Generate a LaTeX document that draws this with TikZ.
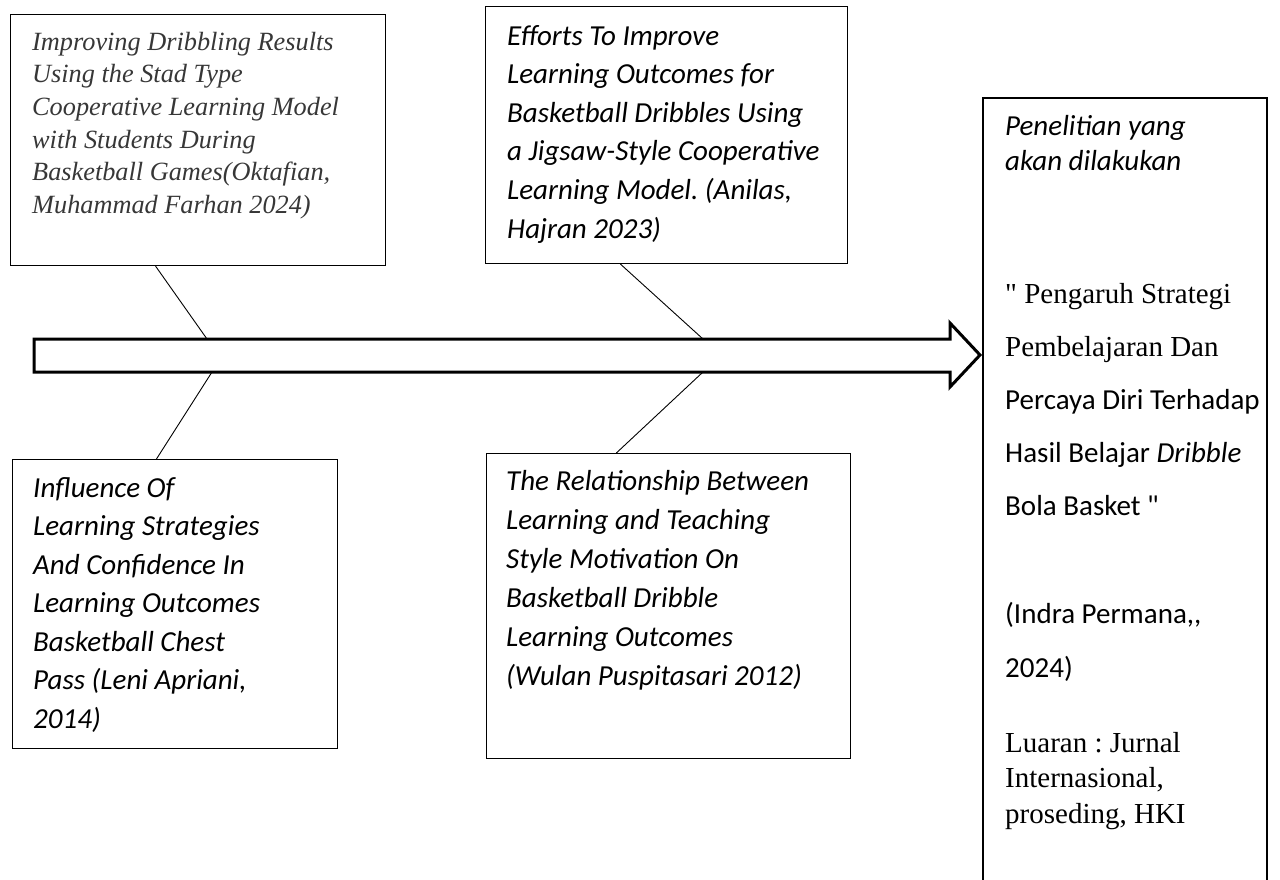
\documentclass[tikz,border=0pt]{standalone}
\usepackage{fontspec}
\setmainfont{Liberation Serif}
\newfontfamily\carl{Carlito}
\usetikzlibrary{calc}
\definecolor{txtgray}{RGB}{55,55,55}
\newcommand\lns[1]{\vtop{\halign{##\hfil\cr#1\crcr}}}
\newcommand\sq{\XeTeXglyph\XeTeXcharglyph"22\relax}
\frenchspacing
\begin{document}
\begin{tikzpicture}[x=1pt,y=-1pt,
  box/.style={draw, line width=1.1pt, inner sep=0pt, anchor=north west},
  txt/.style={anchor=base west, inner sep=0pt},
  conn/.style={line width=0.9pt},
  bigarrow/.style={draw, line width=3pt, line join=miter, fill=white},
  calfont/.style={font=\carl\itshape\fontsize{29}{#1}\selectfont}
]
\useasboundingbox (0,0) rectangle (1280,879);

% boxes
\node[box, minimum width=375pt, minimum height=251pt] (B1) at (10,14) {};
\node[box, minimum width=362pt, minimum height=257pt] (B2) at (485,6) {};
\node[box, minimum width=325pt, minimum height=289pt] (B3) at (12,459) {};
\node[box, minimum width=364pt, minimum height=305pt] (B4) at (486,453) {};
\draw[line width=1.1pt] (983,884) -- (983,98) -- (1267,98) -- (1267,884);

% arrow
\draw[bigarrow] (34,339) -- (950,339) -- (950,323) -- (980,355) -- (950,387) -- (950,372) -- (34,372) -- cycle;
\coordinate (a1) at (207,339);
\coordinate (a2) at (703,339);
\coordinate (a3) at (212,372);
\coordinate (a4) at (703,372);

% connectors
\draw[conn] ($(B1.south west)!0.387!(B1.south east)$) -- (a1);
\draw[conn] ($(B2.south west)!0.373!(B2.south east)$) -- (a2);
\draw[conn] (a3) -- ($(B3.north west)!0.443!(B3.north east)$);
\draw[conn] (a4) -- ($(B4.north west)!0.357!(B4.north east)$);

% texts
\node[txt, font=\fontsize{26.3}{32.7}\selectfont\itshape, text=txtgray] (T1) at (32,50)
  {\lns{Improving Dribbling Results\cr Using the Stad Type\cr Cooperative Learning Model\cr with Students During\cr Basketball Games(Oktafian,\cr Muhammad Farhan 2024)}};
\node[txt, calfont=38.6] (T2) at (507,45)
  {\lns{Efforts To Improve\cr Learning Outcomes for\cr Basketball Dribbles Using\cr a Jigsaw-Style Cooperative\cr Learning Model. (Anilas,\cr Hajran 2023)}};
\node[txt, calfont=38.5] (T3) at (33,497)
  {\lns{Influence Of\cr Learning Strategies\cr And Confidence In\cr Learning Outcomes\cr Basketball Chest\cr Pass (Leni Apriani,\cr 2014)}};
\node[txt, calfont=39] (T4) at (506,490)
  {\lns{The Relationship Between\cr Learning and Teaching\cr Style Motivation On\cr Basketball Dribble\cr Learning Outcomes\cr (Wulan Puspitasari 2012)}};

\node[txt, calfont=35] (R1) at (1005,135) {\lns{Penelitian yang\cr akan dilakukan}};
\node[txt, font=\fontsize{29}{53}\selectfont] (R2) at (1005,303)
  {\lns{\sq{} Pengaruh Strategi\cr Pembelajaran Dan\cr \carl Percaya Diri Terhadap\cr \carl Hasil Belajar \textit{Dribble}\cr \carl Bola Basket \sq}};
\node[txt, font=\carl\fontsize{29}{54}\selectfont] (R3) at (1005,623) {\lns{(Indra Permana,,\cr 2024)}};
\node[txt, font=\fontsize{29}{35.5}\selectfont] (R4) at (1005,752) {\lns{Luaran : Jurnal\cr Internasional,\cr proseding, HKI}};
\end{tikzpicture}
\end{document}
